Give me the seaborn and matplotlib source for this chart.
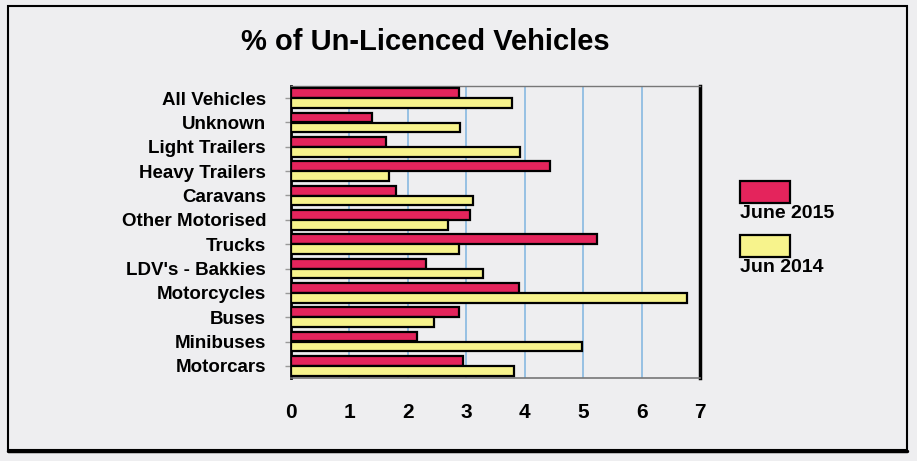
import matplotlib
matplotlib.use("Agg")
import matplotlib.pyplot as plt
import seaborn as sns
import pandas as pd
from matplotlib.patches import Rectangle
from matplotlib.lines import Line2D

categories = ["All Vehicles", "Unknown", "Light Trailers", "Heavy Trailers", "Caravans",
              "Other Motorised", "Trucks", "LDV's - Bakkies", "Motorcycles", "Buses",
              "Minibuses", "Motorcars"]
june_2015 = [2.87, 1.38, 1.62, 4.43, 1.79, 3.06, 5.23, 2.31, 3.90, 2.87, 2.15, 2.95]
jun_2014 = [3.79, 2.89, 3.92, 1.68, 3.12, 2.68, 2.87, 3.29, 6.78, 2.44, 4.98, 3.82]
series_names = ["June 2015", "Jun 2014"]
x_ticks = [0, 1, 2, 3, 4, 5, 6, 7]
title = "% of Un-Licenced Vehicles"

df = pd.DataFrame({
    "Category": categories * 2,
    "Value": june_2015 + jun_2014,
    "Series": [series_names[0]] * len(categories) + [series_names[1]] * len(categories),
})

sns.set_theme(style="white")
plt.rcParams["font.family"] = ["Liberation Sans", "DejaVu Sans"]
plt.rcParams["font.weight"] = "bold"
plt.rcParams["text.color"] = "black"
plt.rcParams["xtick.labelcolor"] = "black"
plt.rcParams["ytick.labelcolor"] = "black"

bg = "#eeeef0"
colors = ["#e4245c", "#f7f38c"]

fig = plt.figure(figsize=(9.17, 4.61), dpi=100, facecolor=bg)
ax = fig.add_axes([291 / 917, 1 - 378 / 461, (700 - 291) / 917, (378 - 86) / 461])
ax.set_facecolor(bg)

sns.barplot(data=df, y="Category", x="Value", hue="Series", orient="h",
            palette=colors, order=categories, hue_order=series_names, saturation=1,
            edgecolor="black", linewidth=1.6, width=0.8, ax=ax, legend=False, zorder=3)

ax.set_xlim(0, 7)
ax.set_xticks(x_ticks)
ax.set_xticklabels([str(t) for t in x_ticks], fontsize=15, fontweight="bold", color="black")
ax.tick_params(axis="x", length=4, color="#888888", pad=14, width=1)
ax.tick_params(axis="y", length=4, color="#999999", pad=14, width=1, left=True)
for lbl in ax.get_yticklabels():
    lbl.set_fontsize(13.5)
    lbl.set_fontweight("bold")
    lbl.set_color("black")
ax.set_xlabel("")
ax.set_ylabel("")

for t in x_ticks[1:-1]:
    ax.axvline(t, color="#8fbde2", linewidth=1.3, zorder=1)

for side in ["left", "right"]:
    ax.spines[side].set_color("black")
ax.spines["left"].set_linewidth(2.0)
ax.spines["right"].set_linewidth(2.5)
ax.spines["top"].set_color("#777777")
ax.spines["top"].set_linewidth(1.0)
ax.spines["bottom"].set_color("#777777")
ax.spines["bottom"].set_linewidth(1.2)

fig.text(425 / 917, 1 - 42 / 461, title, ha="center", va="center",
         fontsize=21, fontweight="bold", color="black")

# legend drawn as patches with labels underneath
W, H = 917, 461
leg_items = [(181, series_names[0], colors[0]), (235, series_names[1], colors[1])]
for top, name, col in leg_items:
    fig.patches.append(Rectangle((740 / W, 1 - (top + 22) / H), 50 / W, 22 / H,
                                 transform=fig.transFigure, facecolor=col,
                                 edgecolor="black", linewidth=1.6))
    fig.text(740 / W, 1 - (top + 33) / H, name, ha="left", va="center",
             fontsize=14, fontweight="bold", color="black")

# outer frame
fig.patches.append(Rectangle((8 / W, 1 - 450 / H), (907 - 8) / W, (450 - 6) / H,
                             transform=fig.transFigure, fill=False,
                             edgecolor="black", linewidth=1.5))
fig.lines.append(Line2D([8 / W, 907 / W], [1 - 451 / H, 1 - 451 / H],
                        transform=fig.transFigure, color="black", linewidth=2.5))

fig.savefig("out.png", dpi=100, facecolor=bg)
